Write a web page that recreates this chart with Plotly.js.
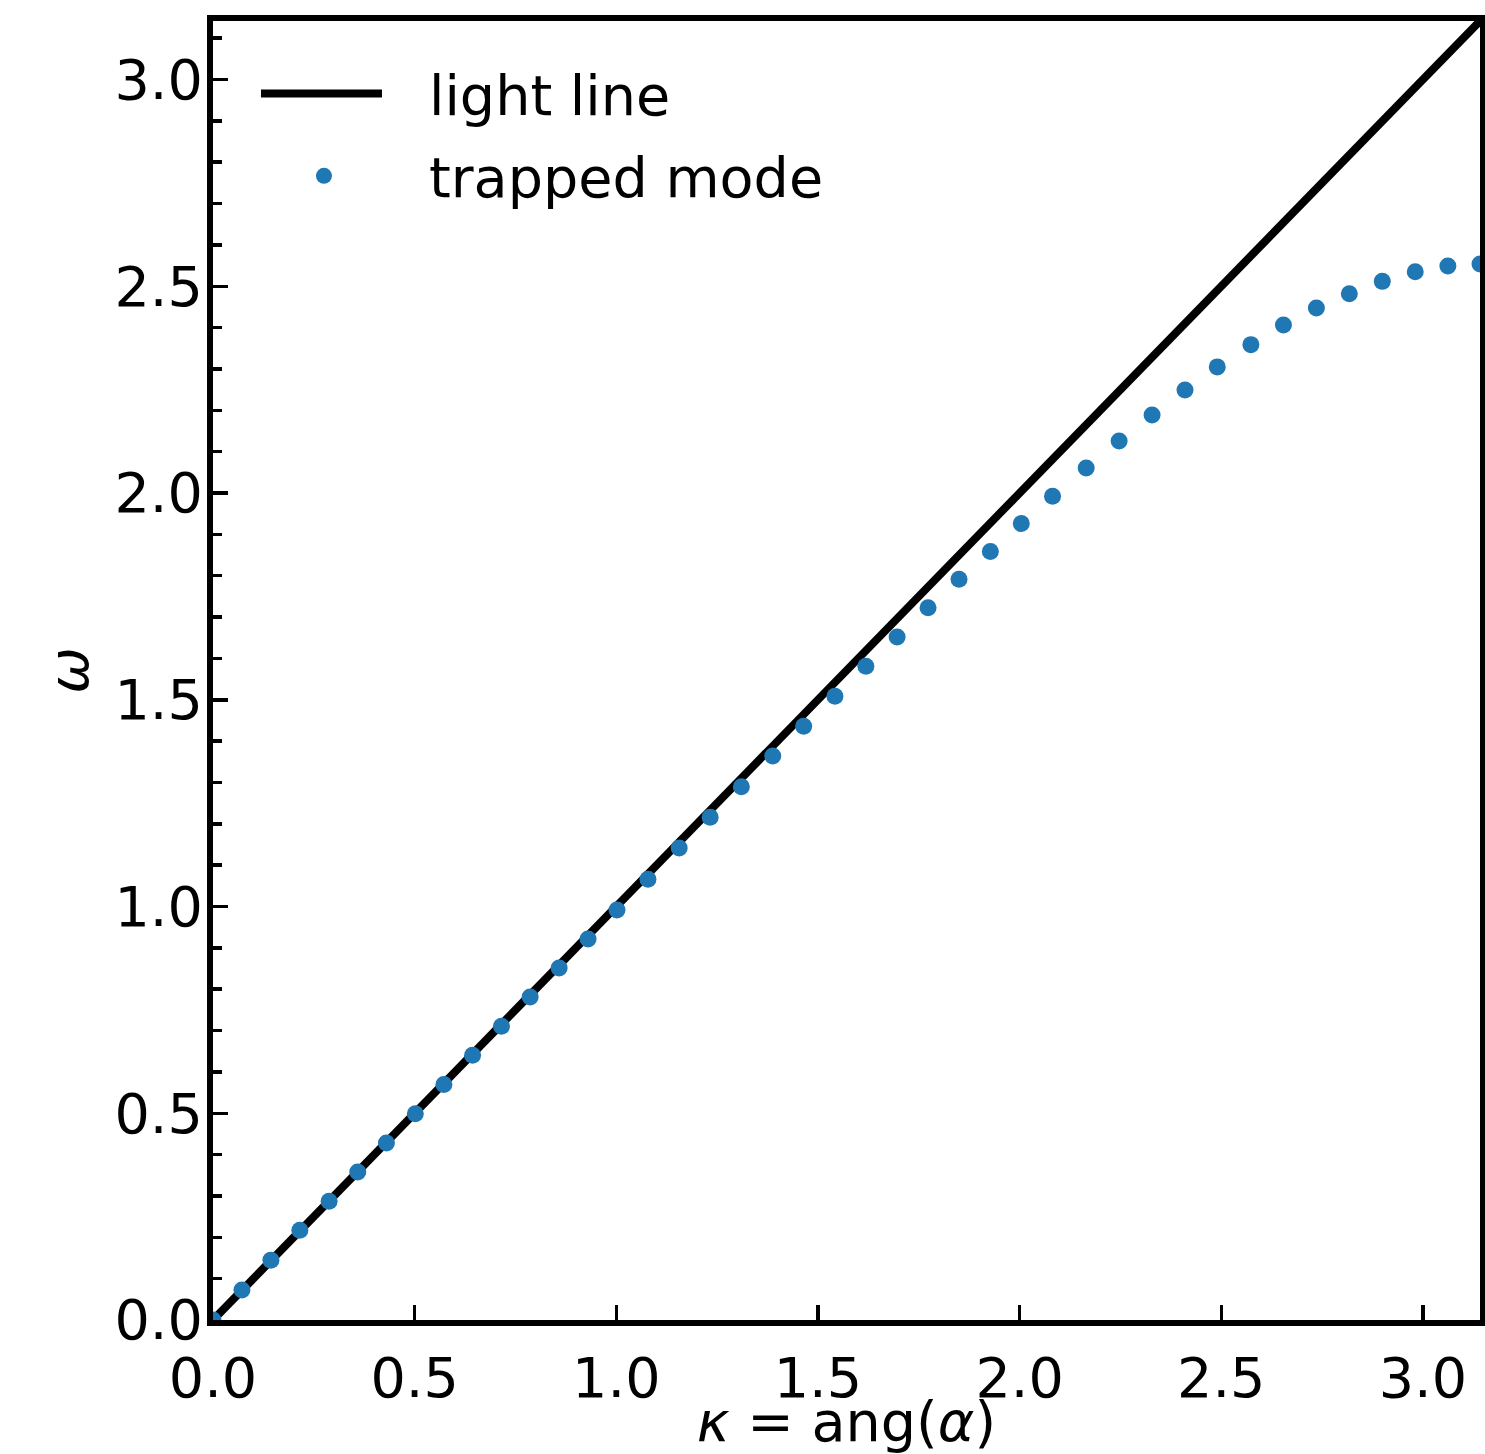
<!DOCTYPE html>
<html>
<head>
<meta charset="utf-8">
<script src="https://cdn.plot.ly/plotly-3.0.1.min.js"></script>
<style>html,body{margin:0;padding:0;background:#fff;}</style>
</head>
<body>
<div id="chart" style="width:1485px;height:1454px;"></div>
<script>
// light line omega = kappa
const lightKappa = [0, Math.PI];
const lightOmega = [0, Math.PI];

// trapped mode
const modeKappa = [0.0000, 0.0718, 0.1436, 0.2153, 0.2879, 0.3589, 0.4300, 0.5017, 0.5725, 0.6436,
  0.7153, 0.7864, 0.8582, 0.9300, 1.0017, 1.0785, 1.1559, 1.2327, 1.3101, 1.3879,
  1.4646, 1.5421, 1.6188, 1.6963, 1.7730, 1.8498, 1.9275, 2.0042, 2.0817, 2.1651,
  2.2468, 2.3285, 2.4101, 2.4901, 2.5735, 2.6542, 2.7359, 2.8176, 2.8993, 2.9810,
  3.0619, 3.1416];
const modeOmega = [0.0000, 0.0724, 0.1448, 0.2172, 0.2872, 0.3580, 0.4280, 0.4989, 0.5696, 0.6404,
  0.7103, 0.7813, 0.8513, 0.9213, 0.9913, 1.0661, 1.1417, 1.2158, 1.2897, 1.3638,
  1.4362, 1.5086, 1.5810, 1.6517, 1.7227, 1.7917, 1.8586, 1.9262, 1.9921, 2.0606,
  2.1258, 2.1885, 2.2489, 2.3051, 2.3589, 2.4065, 2.4475, 2.4820, 2.5119, 2.5351,
  2.5489, 2.5537];

const seriesNames = ['light line', 'trapped mode'];
const xTitle = '<i>κ</i> = ang(<i>α</i>)';
const yTitle = '<i>ω</i>';

const FONT = 'DejaVu Sans';
const FS = 55.6;

const traces = [
  {x: lightKappa, y: lightOmega, mode: 'lines', name: seriesNames[0], legendgroup: 'a',
   line: {color: '#000000', width: 8}},
  {x: modeKappa, y: modeOmega, mode: 'markers', name: seriesNames[1], legendgroup: 'b',
   marker: {color: '#1f77b4', size: 17}}
];

const axBase = {
  showline: true, linewidth: 6, linecolor: '#000', mirror: true,
  ticks: 'inside', ticklen: 15, tickwidth: 3.5, tickcolor: '#000',
  tick0: 0, dtick: 0.5, tickformat: '.1f',
  showgrid: false, zeroline: false,
  tickfont: {family: FONT, size: FS, color: '#000'},
  automargin: false
};

const layout = {
  width: 1485, height: 1454,
  margin: {l: 213, r: 5, t: 21, b: 134, pad: 0},
  paper_bgcolor: '#fff', plot_bgcolor: '#fff',
  font: {family: FONT, size: FS, color: '#000'},
  showlegend: true,
  legend: {x: 0.0347, y: 0.977, xanchor: 'left', yanchor: 'top', bgcolor: 'rgba(0,0,0,0)',
    font: {family: FONT, size: FS, color: '#000'}, tracegroupgap: 7, itemwidth: 162},
  xaxis: Object.assign({}, axBase, {
    range: [0, Math.PI],
    ticklabelstandoff: 4,
    title: {text: xTitle, font: {family: FONT, size: FS, color: '#000'}, standoff: 5}
  }),
  yaxis: Object.assign({}, axBase, {
    range: [0, Math.PI],
    ticklabelstandoff: -7,
    minor: {ticks: 'inside', ticklen: 9, tickwidth: 3.5, tickcolor: '#000', dtick: 0.1, tick0: 0, showgrid: false},
    title: {text: yTitle, font: {family: FONT, size: FS, color: '#000'}, standoff: 10}
  })
};

Plotly.newPlot('chart', traces, layout, {displayModeBar: false, staticPlot: true}).then(function (gd) {
  // shorten the legend line sample to the reference length and centre the marker sample on it
  const LINE_LEN = 121;
  gd.querySelectorAll('.legend .traces').forEach(function (tr) {
    tr.querySelectorAll('.legendlines path').forEach(function (p) {
      const d = p.getAttribute('d') || '';
      const m = d.match(/M\s*([\-\d.]+)\s*,\s*([\-\d.]+)\s*h\s*([\-\d.]+)/);
      if (m) p.setAttribute('d', 'M' + (parseFloat(m[1]) - 1) + ',' + m[2] + 'h' + LINE_LEN);
    });
    tr.querySelectorAll('.legendpoints path').forEach(function (p) {
      const t = p.getAttribute('transform') || '';
      const m = t.match(/translate\(\s*([\-\d.]+)\s*,\s*([\-\d.]+)\s*\)/);
      if (m) p.setAttribute('transform', 'translate(' + (parseFloat(m[1]) - 19) + ',' + m[2] + ')');
    });
  });
});
</script>
</body>
</html>
